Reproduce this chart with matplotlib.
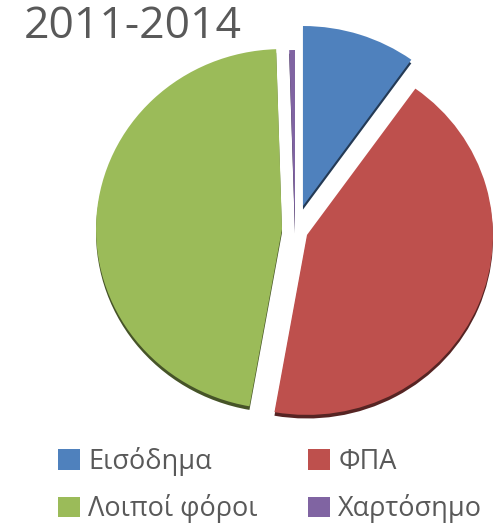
import matplotlib.pyplot as plt
import matplotlib.colors as mcolors

plt.rcParams['font.family'] = ['Open Sans', 'DejaVu Sans']

# data
labels = ['Εισόδημα', 'ΦΠΑ', 'Λοιποί φόροι', 'Χαρτόσημο']
shares = [9.9, 42.9, 46.7, 0.5]
colors = ['#4F81BD', '#BE504D', '#9BBB59', '#8064A2']
title = '2011-2014'

W, H = 502, 523
RX, RY = 186.0, 180.0  # pie radius in px (slightly tilted, like the 3D original)
cx, cy = 295, 230      # pie centre in px

fig = plt.figure(figsize=(W / 100, H / 100), dpi=100)
ax = fig.add_axes([0, 0, 1, 1])
ax.axis('off')

explode = [0.14, 0.07, 0.07, 0.0]

# darker copy underneath for the thin 3D rim
dark = [mcolors.to_hex([c * 0.45 for c in mcolors.to_rgb(col)]) for col in colors]
ax.pie(shares, explode=explode, colors=dark, startangle=90, counterclock=False,
       center=(0, -0.02), radius=1.0, frame=False,
       wedgeprops=dict(linewidth=0))
wedges, _ = ax.pie(shares, explode=explode, colors=colors, startangle=90,
                   counterclock=False, center=(0, 0), radius=1.0, frame=False,
                   wedgeprops=dict(linewidth=0))
ax.set_aspect('auto')
ax.set_xlim(-cx / RX, (W - cx) / RX)
ax.set_ylim((cy - H) / RY, cy / RY)

fig.text(24 / W, 1 - 5 / H, title, fontsize=32, color='#595959',
         ha='left', va='top')

# legend is filled column by column, reference reads row by row
order = [0, 2, 1, 3]
leg = fig.legend([wedges[i] for i in order], [labels[i] for i in order],
                 ncol=2, loc='upper left',
                 bbox_to_anchor=(58 / W, 1 - 447 / H), frameon=False,
                 borderpad=0, borderaxespad=0,
                 fontsize=19.5, labelcolor='#595959',
                 handlelength=0.8, handleheight=0.8, handletextpad=0.32,
                 columnspacing=1.85, labelspacing=0.68)

fig.savefig('out.png', dpi=100)
